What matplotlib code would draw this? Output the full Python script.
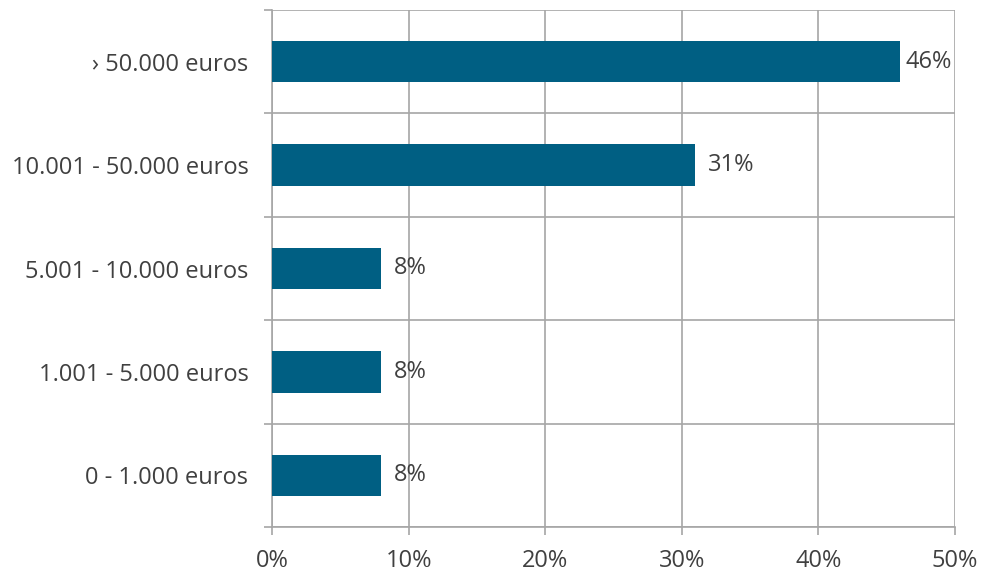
import matplotlib
matplotlib.use("Agg")
import matplotlib.pyplot as plt
import numpy as np

categories = ["0 - 1.000 euros", "1.001 - 5.000 euros", "5.001 - 10.000 euros",
              "10.001 - 50.000 euros", "› 50.000 euros"]
values = [8, 8, 8, 31, 46]
xticks = [0, 10, 20, 30, 40, 50]

BAR = "#005f83"
GRID = "#a6a6a6"
TEXT = "#404040"
FS = 17

plt.rcParams['font.family'] = ['Open Sans', 'DejaVu Sans']

fig = plt.figure(figsize=(9.84, 5.73), dpi=100)
ax = fig.add_axes([272 / 984, 1 - 527 / 573, (955 - 272) / 984, (527 - 10) / 573])

y = np.arange(len(categories))
ax.barh(y, values, height=0.4, color=BAR, zorder=3)
for yi, v in zip(y, values):
    # labels near the right edge get pulled in, as in the original
    off = 0.95 if v < 45 else 0.4
    ax.text(v + off, yi, "%d%%" % v, va="center", ha="left",
            fontsize=FS, color=TEXT, zorder=4)

ax.set_xlim(0, 50)
ax.set_ylim(-0.5, len(categories) - 0.5)

ax.set_xticks(xticks)
ax.set_xticklabels(["%d%%" % t for t in xticks])
ax.set_yticks(y)
ax.set_yticklabels(categories)
ax.set_yticks(np.arange(-0.5, len(categories)), minor=True)

ax.tick_params(axis="y", which="major", length=0, pad=17, labelsize=FS, labelcolor=TEXT)
ax.tick_params(axis="y", which="minor", length=6, width=1.2, color=GRID, direction="out")
ax.tick_params(axis="x", length=6, width=1.2, color=GRID, pad=10, labelsize=FS, labelcolor=TEXT)

ax.grid(axis="x", which="major", color=GRID, linewidth=1.2, zorder=0)
ax.grid(axis="y", which="minor", color=GRID, linewidth=1.2, zorder=0)
ax.grid(axis="y", which="major", visible=False)

for s in ["top", "right"]:
    ax.spines[s].set_visible(False)
ax.spines["left"].set_color(GRID)
ax.spines["bottom"].set_color(GRID)
ax.spines["left"].set_linewidth(1.2)
ax.spines["bottom"].set_linewidth(1.2)

fig.savefig("out.png", dpi=100)
